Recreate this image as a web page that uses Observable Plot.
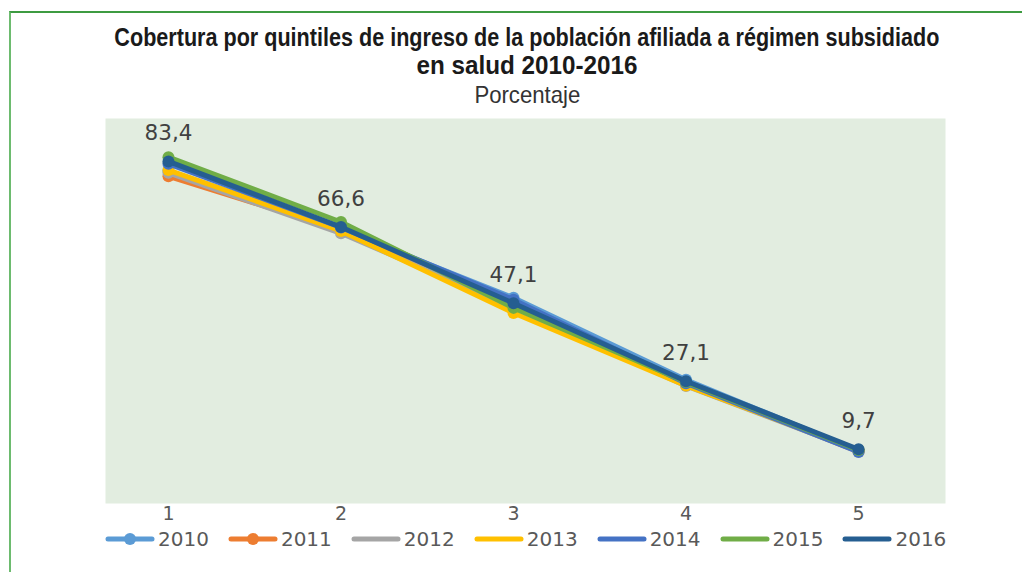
<!DOCTYPE html>
<html>
<head>
<meta charset="utf-8">
<script src="https://cdn.jsdelivr.net/npm/d3@7"></script>
<script src="https://cdn.jsdelivr.net/npm/@observablehq/plot@0.6"></script>
<style>
  html, body { margin:0; padding:0; background:#fff; width:1022px; height:572px; overflow:hidden; }
  #frame { position:absolute; left:9px; top:11px; width:1020px; height:570px; border-top:2px solid #3d9b41; border-left:2px solid #6dbb6f; box-sizing:border-box; }
  #chart { position:absolute; left:0; top:0; }
  .t { position:absolute; left:0; width:1054px; text-align:center; color:#1a1a1a; font-family:"Liberation Sans",Arial,sans-serif; white-space:nowrap; }
  .t span { display:inline-block; transform-origin:50% 50%; }
  #t1 { top:23px; font-size:25px; font-weight:bold; line-height:28px; }
  #t1b { top:51px; font-size:25px; font-weight:bold; line-height:28px; }
  #t2 { top:81px; font-size:24px; color:#333; line-height:28px; }
  #legend { position:absolute; left:105px; top:527px; display:flex; align-items:center; font-family:"DejaVu Sans",Verdana,sans-serif; font-size:20px; color:#595959; }
  .item { display:flex; align-items:center; margin-right:19px; }
  .item svg { margin-right:3px; }
</style>
</head>
<body>
<div id="frame"></div>
<div id="chart"></div>
<div class="t" id="t1"><span data-w="825">Cobertura por quintiles de ingreso de la población afiliada a régimen subsidiado</span></div>
<div class="t" id="t1b"><span data-w="221">en salud 2010-2016</span></div>
<div class="t" id="t2"><span data-w="106">Porcentaje</span></div>
<div id="legend"></div>
<script>
const quintiles = [1, 2, 3, 4, 5];
const years = ["2010", "2011", "2012", "2013", "2014", "2015", "2016"];
const v2010 = [81.0, 66.0, 48.5, 27.5, 9.3];
const v2011 = [79.6, 65.8, 46.8, 26.5, 9.1];
const v2012 = [80.5, 65.0, 46.0, 25.9, 9.2];
const v2013 = [81.2, 65.6, 44.6, 26.0, 9.4];
const v2014 = [82.8, 66.5, 48.0, 26.6, 9.0];
const v2015 = [84.5, 67.9, 45.9, 26.9, 9.5];
const v2016 = [83.4, 66.6, 47.1, 27.1, 9.7];
const colors = ["#5B9BD5", "#ED7D31", "#A5A5A5", "#FFC000", "#4472C4", "#70AD47", "#255E91"];
const legendMarkers = ["2010", "2011"];
const labelYear = "2016";

const series = [v2010, v2011, v2012, v2013, v2014, v2015, v2016];
const data = years.flatMap((y, i) => quintiles.map((q, j) => ({year: y, q, v: series[i][j]})));

const marks = [Plot.frame({fill: "#E2EDE0", stroke: null})];
years.forEach(y => {
  const d = data.filter(r => r.year === y);
  marks.push(Plot.line(d, {x: "q", y: "v", stroke: "year", strokeWidth: 5, strokeLinecap: "round", strokeLinejoin: "round"}));
  marks.push(Plot.dot(d, {x: "q", y: "v", fill: "year", r: 6}));
});
marks.push(Plot.text(data.filter(r => r.year === labelYear), {
  x: "q", y: "v", text: d => d.v.toFixed(1).replace(".", ","), dy: -28,
  fontSize: 21.5, fill: "#404040", fontFamily: "DejaVu Sans, Verdana, sans-serif"
}));
marks.push(Plot.axisX(quintiles, {tickSize: 0, tickPadding: 3, fontSize: 19, fill: "#595959", fontFamily: "DejaVu Sans, Verdana, sans-serif", tickFormat: d => String(d), label: null}));

const chart = Plot.plot({
  width: 1022, height: 572,
  marginLeft: 105, marginRight: 77, marginTop: 118, marginBottom: 69,
  x: {domain: [0.635, 5.504], label: null},
  y: {domain: [-4.2, 94.4], axis: null},
  color: {domain: years, range: colors},
  style: {background: "transparent", overflow: "visible"},
  marks
});
document.getElementById("chart").appendChild(chart);

document.querySelectorAll(".t span").forEach(s => {
  const target = +s.dataset.w;
  const w = s.getBoundingClientRect().width;
  if (w > 0) s.style.transform = `scaleX(${target / w})`;
});

const legend = document.getElementById("legend");
years.forEach((y, i) => {
  const item = document.createElement("div");
  item.className = "item";
  const hasMarker = legendMarkers.includes(y);
  item.innerHTML = `<svg width="50" height="14"><line x1="3" y1="7" x2="47" y2="7" stroke="${colors[i]}" stroke-width="5" stroke-linecap="round"/>${hasMarker ? `<circle cx="25" cy="7" r="6" fill="${colors[i]}"/>` : ""}</svg><span>${y}</span>`;
  legend.appendChild(item);
});
</script>
</body>
</html>
